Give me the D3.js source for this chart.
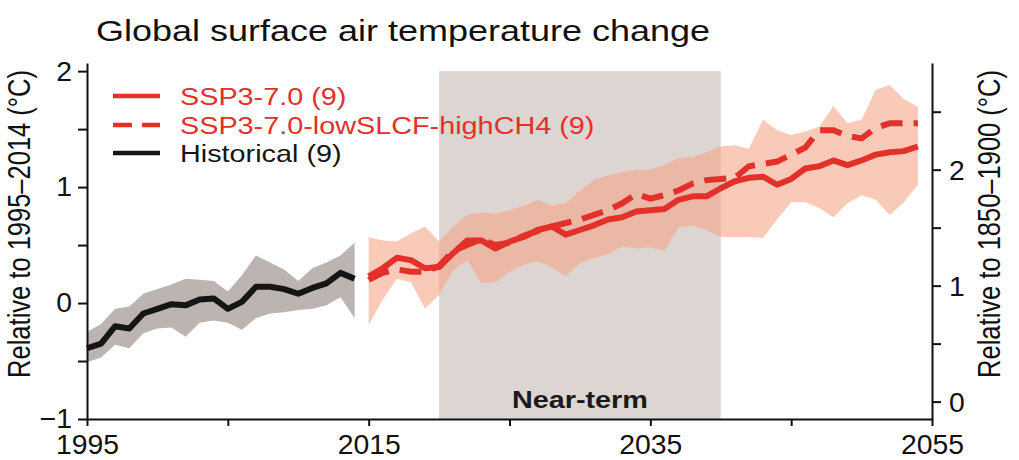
<!DOCTYPE html>
<html>
<head>
<meta charset="utf-8">
<script src="https://cdn.jsdelivr.net/npm/d3@7"></script>
<style>
  html, body { margin: 0; padding: 0; background: #fff; }
  svg { display: block; font-family: "Liberation Sans", Arial, sans-serif; }
</style>
</head>
<body>
<svg id="chart" width="1019" height="460"></svg>
<script>
// ---- data ----
const histYears = [1995,1996,1997,1998,1999,2000,2001,2002,2003,2004,2005,2006,2007,2008,2009,2010,2011,2012,2013,2014];
const histMean = [-0.39,-0.35,-0.20,-0.22,-0.09,-0.05,-0.01,-0.02,0.03,0.04,-0.05,0.01,0.14,0.14,0.12,0.08,0.13,0.17,0.26,0.21];
const histHigh = [-0.25,-0.18,-0.05,-0.03,0.08,0.12,0.16,0.21,0.20,0.19,0.10,0.24,0.41,0.35,0.29,0.19,0.30,0.35,0.41,0.52];
const histLow  = [-0.51,-0.47,-0.36,-0.39,-0.26,-0.22,-0.21,-0.29,-0.17,-0.15,-0.17,-0.23,-0.13,-0.09,-0.08,-0.06,-0.05,-0.02,0.05,-0.13];

const sspYears = [2015,2016,2017,2018,2019,2020,2021,2022,2023,2024,2025,2026,2027,2028,2029,2030,2031,2032,2033,2034,
                  2035,2036,2037,2038,2039,2040,2041,2042,2043,2044,2045,2046,2047,2048,2049,2050,2051,2052,2053,2054];
const ssp370 = [0.23,0.30,0.39,0.37,0.30,0.31,0.43,0.54,0.54,0.47,0.53,0.57,0.63,0.66,0.59,0.63,0.67,0.72,0.74,0.79,
                0.80,0.81,0.89,0.92,0.92,0.99,1.05,1.08,1.09,1.02,1.07,1.16,1.18,1.23,1.19,1.23,1.28,1.30,1.31,1.35];
const ssp370LowSLCF = [0.20,0.26,0.29,0.27,0.27,0.32,0.45,0.50,0.55,0.50,0.52,0.58,0.62,0.66,0.69,0.72,0.76,0.80,0.86,0.94,
                       0.90,0.93,0.97,1.03,1.06,1.07,1.08,1.18,1.20,1.22,1.28,1.34,1.49,1.49,1.44,1.42,1.51,1.55,1.55,1.55];
const sspHigh = [0.57,0.54,0.53,0.60,0.66,0.53,0.66,0.76,0.78,0.77,0.80,0.84,0.89,0.84,0.86,0.97,1.06,1.10,1.13,1.15,
                 1.15,1.19,1.25,1.26,1.30,1.35,1.36,1.33,1.58,1.49,1.45,1.48,1.52,1.70,1.55,1.58,1.84,1.88,1.76,1.69];
const sspLow  = [-0.19,0.03,0.21,0.18,-0.05,0.07,0.28,0.37,0.17,0.18,0.27,0.33,0.36,0.31,0.23,0.34,0.39,0.42,0.49,0.47,
                 0.48,0.45,0.65,0.67,0.63,0.57,0.57,0.57,0.56,0.72,0.87,0.87,0.82,0.74,0.86,0.93,0.89,0.76,0.87,1.02];

const nearTerm = [2020, 2040];
const baselineOffset = 0.85;           // 1995–2014 relative to 1850–1900
const xTicks = [1995, 2005, 2015, 2025, 2035, 2045, 2055];
const xLabels = [1995, 2015, 2035, 2055];
const yTicks = [-1, -0.5, 0, 0.5, 1, 1.5, 2];
const yLabels = [-1, 0, 1, 2];
const yRightTicks = [0, 0.5, 1, 1.5, 2, 2.5];
const yRightLabels = [0, 1, 2];

const legendItems = [
  { label: "SSP3-7.0 (9)", color: "#e3302b", dash: null, textColor: "#e3302b" },
  { label: "SSP3-7.0-lowSLCF-highCH4 (9)", color: "#e3302b", dash: "19,10", textColor: "#e3302b" },
  { label: "Historical (9)", color: "#151515", dash: null, textColor: "#151515" }
];

// ---- layout ----
const svg = d3.select("#chart");
const SX = 1.2;    // horizontal glyph stretch of the figure lettering
const SXT = 1.05;  // stretch for tick numbers
const red = "#e3302b";

const x = d3.scaleLinear().domain([1995, 2055]).range([87, 932]);
const y = d3.scaleLinear().domain([-1, 2.07]).range([419, 63]);
const yR = d3.scaleLinear().domain([-1 + baselineOffset, 2.07 + baselineOffset]).range([419, 63]);

// near-term window
svg.append("rect")
  .attr("x", x(nearTerm[0])).attr("width", x(nearTerm[1]) - x(nearTerm[0]))
  .attr("y", y(2)).attr("height", y(-1) - y(2))
  .attr("fill", "#ddd5d2");

svg.append("text")
  .attr("transform", `translate(${(x(nearTerm[0]) + x(nearTerm[1])) / 2},408) scale(${SX},1)`)
  .attr("text-anchor", "middle")
  .attr("font-size", 24).attr("font-weight", "bold").attr("fill", "#1a1a1a")
  .text("Near-term");

// uncertainty bands
const hist = histYears.map((yr, i) => ({ yr, m: histMean[i], hi: histHigh[i], lo: histLow[i] }));
const ssp = sspYears.map((yr, i) => ({ yr, a: ssp370[i], b: ssp370LowSLCF[i], hi: sspHigh[i], lo: sspLow[i] }));

const band = d3.area().x(d => x(d.yr)).y0(d => y(d.lo)).y1(d => y(d.hi));
svg.append("path").datum(hist).attr("d", band).attr("fill", "#bcb4b0");
svg.append("path").datum(ssp).attr("d", band).attr("fill", "#f6a487").attr("fill-opacity", 0.58);

// lines
const lineOf = key => d3.line().x(d => x(d.yr)).y(d => y(d[key]));
svg.append("path").datum(hist).attr("d", lineOf("m"))
  .attr("fill", "none").attr("stroke", "#151515").attr("stroke-width", 6).attr("stroke-linejoin", "round");
svg.append("path").datum(ssp).attr("d", lineOf("a"))
  .attr("fill", "none").attr("stroke", red).attr("stroke-width", 6).attr("stroke-linejoin", "round");
svg.append("path").datum(ssp).attr("d", lineOf("b"))
  .attr("fill", "none").attr("stroke", red).attr("stroke-width", 6)
  .attr("stroke-dasharray", "22,11");

// axes
function styleAxis(g) {
  g.selectAll(".domain").attr("stroke", "#111").attr("stroke-width", 2);
  g.selectAll(".tick line").attr("stroke", "#111").attr("stroke-width", 2);
  g.selectAll(".tick text").attr("fill", "#111").attr("font-family", "Liberation Sans, Arial, sans-serif");
}

const fmtInt = d3.format("d");
const gx = svg.append("g").attr("transform", `translate(0,${y(-1)})`)
  .call(d3.axisBottom(x).tickValues(xTicks).tickSize(7).tickSizeOuter(0)
    .tickFormat(d => xLabels.includes(d) ? fmtInt(d) : ""));
styleAxis(gx);
gx.selectAll(".tick text").attr("font-size", 27).attr("y", 35).attr("dy", 0)
  .attr("transform", `scale(${SXT},1)`);

const gl = svg.append("g").attr("transform", `translate(${x(1995)},0)`)
  .call(d3.axisLeft(y).tickValues(yTicks).tickSize(9).tickSizeOuter(0)
    .tickFormat(d => yLabels.includes(d) ? fmtInt(d) : ""));
styleAxis(gl);
gl.selectAll(".tick text").attr("font-size", 27).attr("x", -15 / SXT).attr("dy", "0.33em")
  .attr("transform", `scale(${SXT},1)`);

const gr = svg.append("g").attr("transform", `translate(${x(2055)},0)`)
  .call(d3.axisRight(yR).tickValues(yRightTicks).tickSize(9).tickSizeOuter(0)
    .tickFormat(d => yRightLabels.includes(d) ? fmtInt(d) : ""));
styleAxis(gr);
gr.selectAll(".tick text").attr("font-size", 27).attr("x", 17 / SXT).attr("dy", "0.35em")
  .attr("transform", `scale(${SXT},1)`);

// axis titles
svg.append("text")
  .attr("transform", `translate(30,224) scale(${SX},1) rotate(-90)`)
  .attr("text-anchor", "middle").attr("font-size", 25.5).attr("fill", "#111")
  .text("Relative to 1995–2014 (°C)");
svg.append("text")
  .attr("transform", `translate(1000,224) scale(${SX},1) rotate(-90)`)
  .attr("text-anchor", "middle").attr("font-size", 25.5).attr("fill", "#111")
  .text("Relative to 1850–1900 (°C)");

// title
svg.append("text")
  .attr("transform", `translate(96,41) scale(${SX},1)`)
  .attr("font-size", 30).attr("fill", "#111")
  .text("Global surface air temperature change");

// legend
const lg = svg.append("g");
const rowY = [96, 125, 153];
legendItems.forEach((it, i) => {
  lg.append("line").attr("x1", 113).attr("x2", 160).attr("y1", rowY[i]).attr("y2", rowY[i])
    .attr("stroke", it.color).attr("stroke-width", 4.5)
    .attr("stroke-dasharray", it.dash);
  lg.append("text")
    .attr("transform", `translate(180,${rowY[i] + 8.5}) scale(${SX},1)`)
    .attr("font-size", 24).attr("fill", it.textColor)
    .text(it.label);
});
</script>
</body>
</html>
